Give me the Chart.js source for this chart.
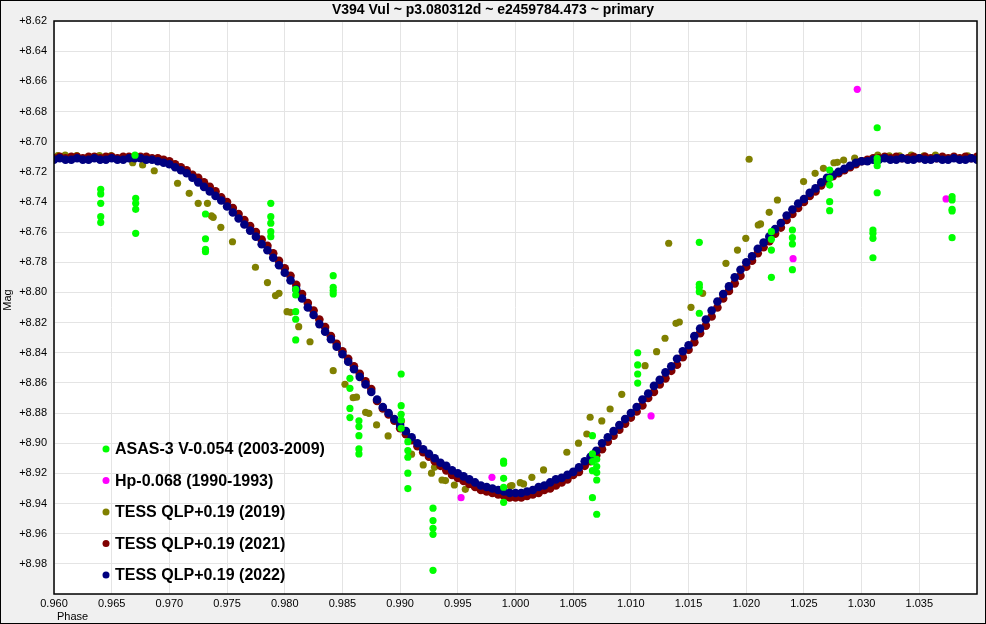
<!DOCTYPE html>
<html>
<head>
<meta charset="utf-8">
<script src="https://cdn.jsdelivr.net/npm/chart.js@4.4.1/dist/chart.umd.min.js"></script>
<style>
  html, body { margin: 0; padding: 0; background: #f0f0f0; }
  #wrap { width: 986px; height: 624px; position: relative; }
</style>
</head>
<body>
<div id="wrap"><canvas id="lc"></canvas></div>
<script>
// ASAS-3 V (2003-2009)
const asasPhase = [0.96405,0.96405,0.96405,0.96405,0.96405, 0.96702, 0.96708,0.96708,0.96708,0.96708,
  0.97313,0.97313,0.97313,0.97313, 0.97879,0.97879,0.97879,0.97879,0.97879,
  0.98095,0.98095,0.98095,0.98095,0.98095, 0.98420,0.98420,0.98420,0.98420,
  0.98565,0.98565,0.98565,0.98565, 0.98643,0.98643,0.98643,0.98643,0.98643,
  0.99009,0.99009,0.99009,0.99009,0.99009, 0.99067,0.99067,0.99067,0.99067,0.99067,
  0.99285,0.99285,0.99285,0.99285,0.99285, 0.99897,0.99897,0.99897,0.99897,0.99897,
  1.00667,1.00667,1.00667,1.00667,1.00667, 1.00704,1.00704,1.00704,1.00704,1.00704,
  1.01059,1.01059,1.01059,1.01059, 1.01593,1.01593,1.01593,1.01593,1.01593,
  1.02218,1.02218,1.02218,1.02218, 1.02400,1.02400,1.02400,1.02400,
  1.02723,1.02723,1.02723,1.02723,1.02723, 1.03098,1.03098,1.03098,1.03098,
  1.03135,1.03135,1.03135,1.03135,1.03135, 1.03784,1.03784,1.03784,1.03784,1.03784];
const asasMag = [8.7316,8.7347,8.7409,8.7498,8.7537, 8.7090, 8.7376,8.7409,8.7449,8.7608,
  8.7480,8.7644,8.7714,8.7730, 8.7409,8.7498,8.7541,8.7597,8.7630,
  8.7980,8.8017,8.8128,8.8178,8.8315, 8.7889,8.7966,8.7988,8.8010,
  8.8570,8.8636,8.8769,8.8830, 8.8851,8.8890,8.8950,8.9038,8.9071,
  8.8541,8.8751,8.8808,8.8846,8.8901, 8.8990,8.9049,8.9093,8.9199,8.9301,
  8.9431,8.9513,8.9564,8.9604,8.9843, 8.9118,8.9133,8.9233,8.9292,8.9392,
  8.8950,8.9071,8.9122,8.9182,8.9361, 8.9107,8.9155,8.9195,8.9244,8.9471,
  8.8400,8.8481,8.8541,8.8601, 8.7668,8.7946,8.7966,8.7995,8.8138,
  8.7597,8.7648,8.7719,8.7900, 8.7586,8.7637,8.7679,8.7849,
  8.7188,8.7243,8.7288,8.7398,8.7458, 8.7586,8.7608,8.7641,8.7770,
  8.6908,8.7111,8.7133,8.7160,8.7339, 8.7365,8.7387,8.7449,8.7460,8.7637];

// Hipparcos Hp (1990-1993)
const hpPhase = [0.99528, 0.99796, 1.01175, 1.02406, 1.02962, 1.03732];
const hpMag   = [8.9361, 8.9226, 8.8819, 8.7776, 8.6653, 8.7380];

// TESS QLP 2019
const tess19Phase = [0.96033,0.96097,0.96197,0.96394,0.96495,0.96682,0.96768,0.96869,0.97071,0.97172,
  0.97250,0.97330,0.97365,0.97380,0.97446,0.97547,0.97746,0.97850,0.97920,0.97950,
  0.98020,0.98050,0.98121,0.98219,0.98420,0.98522,0.98593,0.98622,0.98701,0.98729,
  0.98796,0.98896,0.99012,0.99099,0.99200,0.99272,0.99298,0.99363,0.99393,0.99470,
  0.99565,0.99955,0.99969,1.00041,1.00070,1.00142,1.00243,1.00445,1.00546,1.00618,
  1.00647,1.00748,1.00820,1.00921,1.01123,1.01223,1.01296,1.01328,1.01391,1.01420,
  1.01521,1.01622,1.01824,1.01924,1.01996,1.02025,1.02104,1.02124,1.02199,1.02270,
  1.02497,1.02597,1.02669,1.02760,1.02790,1.02844,1.02940,1.03140,1.03240,1.03330,
  1.03430,1.03540,1.03640,1.03920];
const tess19Mag = [8.7093,8.7090,8.7093,8.7093,8.7093,8.7140,8.7155,8.7193,8.7276,8.7343,
  8.7409,8.7409,8.7493,8.7502,8.7568,8.7664,8.7833,8.7935,8.8021,8.8006,
  8.8128,8.8132,8.8227,8.8327,8.8519,8.8609,8.8698,8.8695,8.8795,8.8802,
  8.8879,8.8952,8.8853,8.9073,8.9144,8.9199,8.9160,8.9244,8.9248,8.9277,
  8.9306,8.9284,8.9281,8.9262,8.9270,8.9226,8.9177,8.9060,8.9000,8.8939,
  8.8828,8.8852,8.8773,8.8676,8.8486,8.8393,8.8304,8.7674,8.8205,8.8196,
  8.8099,8.8006,8.7807,8.7719,8.7641,8.7117,8.7553,8.7546,8.7469,8.7387,
  8.7265,8.7210,8.7177,8.7140,8.7137,8.7122,8.7110,8.7089,8.7095,8.7095,
  8.7090,8.7095,8.7090,8.7095];

// TESS QLP 2021 and 2022 share the same phase sampling
const tessPhase = [
  0.9600,0.9605,0.9610,0.9615,0.9620,0.9625,0.9630,0.9635,0.9640,0.9645,
  0.9650,0.9655,0.9660,0.9665,0.9670,0.9675,0.9680,0.9685,0.9690,0.9695,
  0.9700,0.9705,0.9710,0.9715,0.9720,0.9725,0.9730,0.9735,0.9740,0.9745,
  0.9750,0.9755,0.9760,0.9765,0.9770,0.9775,0.9780,0.9785,0.9790,0.9795,
  0.9800,0.9805,0.9810,0.9815,0.9820,0.9825,0.9830,0.9835,0.9840,0.9845,
  0.9850,0.9855,0.9860,0.9865,0.9870,0.9875,0.9880,0.9885,0.9890,0.9895,
  0.9900,0.9905,0.9910,0.9915,0.9920,0.9925,0.9930,0.9935,0.9940,0.9945,
  0.9950,0.9955,0.9960,0.9965,0.9970,0.9975,0.9980,0.9985,0.9990,0.9995,
  1.0000,1.0005,1.0010,1.0015,1.0020,1.0025,1.0030,1.0035,1.0040,1.0045,
  1.0050,1.0055,1.0060,1.0065,1.0070,1.0075,1.0080,1.0085,1.0090,1.0095,
  1.0100,1.0105,1.0110,1.0115,1.0120,1.0125,1.0130,1.0135,1.0140,1.0145,
  1.0150,1.0155,1.0160,1.0165,1.0170,1.0175,1.0180,1.0185,1.0190,1.0195,
  1.0200,1.0205,1.0210,1.0215,1.0220,1.0225,1.0230,1.0235,1.0240,1.0245,
  1.0250,1.0255,1.0260,1.0265,1.0270,1.0275,1.0280,1.0285,1.0290,1.0295,
  1.0300,1.0305,1.0310,1.0315,1.0320,1.0325,1.0330,1.0335,1.0340,1.0345,
  1.0350,1.0355,1.0360,1.0365,1.0370,1.0375,1.0380,1.0385,1.0390,1.0395,
  1.0400];
const tess21Mag = [
  8.711,8.710,8.711,8.710,8.710,8.711,8.710,8.710,8.711,8.710,
  8.710,8.711,8.710,8.710,8.710,8.710,8.710,8.711,8.711,8.712,
  8.713,8.715,8.717,8.719,8.722,8.724,8.727,8.730,8.733,8.737,
  8.740,8.744,8.748,8.752,8.756,8.760,8.765,8.769,8.774,8.779,
  8.784,8.789,8.795,8.801,8.807,8.812,8.818,8.823,8.829,8.834,
  8.839,8.844,8.849,8.854,8.859,8.864,8.872,8.877,8.881,8.885,
  8.890,8.894,8.898,8.902,8.906,8.909,8.912,8.915,8.918,8.921,
  8.923,8.925,8.927,8.929,8.931,8.932,8.933,8.934,8.935,8.936,
  8.936,8.936,8.935,8.934,8.933,8.931,8.930,8.928,8.926,8.924,
  8.921,8.919,8.915,8.912,8.908,8.904,8.899,8.895,8.891,8.887,
  8.883,8.879,8.875,8.870,8.866,8.861,8.857,8.852,8.848,8.843,
  8.838,8.833,8.827,8.822,8.816,8.810,8.804,8.799,8.794,8.789,
  8.783,8.779,8.774,8.770,8.766,8.761,8.757,8.752,8.748,8.744,
  8.740,8.736,8.733,8.729,8.726,8.723,8.721,8.719,8.717,8.715,
  8.713,8.712,8.711,8.711,8.710,8.711,8.710,8.711,8.711,8.710,
  8.711,8.710,8.711,8.711,8.710,8.711,8.710,8.711,8.710,8.711,
  8.710];
const tess22Mag = [
  8.712,8.711,8.712,8.712,8.711,8.712,8.712,8.711,8.712,8.712,
  8.711,8.712,8.712,8.711,8.711,8.711,8.712,8.712,8.713,8.714,
  8.715,8.717,8.719,8.721,8.724,8.727,8.730,8.733,8.736,8.739,
  8.743,8.747,8.751,8.755,8.759,8.763,8.768,8.772,8.777,8.782,
  8.787,8.792,8.798,8.804,8.810,8.815,8.821,8.826,8.831,8.836,
  8.841,8.846,8.851,8.856,8.861,8.866,8.871,8.876,8.880,8.884,
  8.888,8.892,8.896,8.900,8.904,8.907,8.910,8.913,8.915,8.918,
  8.920,8.922,8.924,8.926,8.928,8.929,8.930,8.931,8.932,8.933,
  8.933,8.933,8.932,8.931,8.929,8.928,8.926,8.924,8.923,8.921,
  8.919,8.916,8.912,8.909,8.905,8.900,8.896,8.892,8.888,8.884,
  8.880,8.876,8.871,8.867,8.862,8.858,8.853,8.849,8.844,8.839,
  8.835,8.829,8.824,8.818,8.812,8.806,8.801,8.796,8.790,8.785,
  8.780,8.776,8.771,8.767,8.763,8.758,8.754,8.749,8.745,8.741,
  8.738,8.734,8.731,8.727,8.724,8.722,8.720,8.718,8.716,8.714,
  8.713,8.713,8.712,8.712,8.711,8.712,8.712,8.711,8.712,8.712,
  8.711,8.712,8.712,8.711,8.712,8.712,8.711,8.712,8.712,8.711,
  8.712];

const seriesLabels = ['ASAS-3 V-0.054 (2003-2009)', 'Hp-0.068 (1990-1993)',
  'TESS QLP+0.19 (2019)', 'TESS QLP+0.19 (2021)', 'TESS QLP+0.19 (2022)'];
const seriesColors = ['#00ff00', '#ff00ff', '#808000', '#800000', '#000080'];

const FONT = '"Liberation Sans", Arial, sans-serif';

function pts(xs, ys) {
  return xs.map((x, i) => ({ x: x, y: ys[i] }));
}

// background, frame, title, axis names and the in-plot legend
const decor = {
  id: 'decor',
  beforeDraw(chart) {
    const { ctx, chartArea: a, width, height } = chart;
    ctx.save();
    ctx.fillStyle = '#f0f0f0';
    ctx.fillRect(0, 0, width, height);
    ctx.fillStyle = '#ffffff';
    ctx.fillRect(a.left, a.top, a.right - a.left, a.bottom - a.top);
    ctx.restore();
  },
  afterDraw(chart) {
    const { ctx, chartArea: a, width, height } = chart;
    ctx.save();
    ctx.strokeStyle = '#000';
    ctx.lineWidth = 1.5;
    ctx.strokeRect(a.left, a.top, a.right - a.left, a.bottom - a.top);
    ctx.lineWidth = 1;
    ctx.strokeRect(0.5, 0.5, width - 1, height - 1);

    ctx.fillStyle = '#000';
    ctx.font = 'bold 14px ' + FONT;
    ctx.textAlign = 'center';
    ctx.textBaseline = 'middle';
    ctx.fillText('V394 Vul ~ p3.080312d ~ e2459784.473 ~ primary', width / 2, 10);

    ctx.font = '11px ' + FONT;
    ctx.textAlign = 'left';
    ctx.fillText('Phase', 57, 617);
    ctx.save();
    ctx.translate(8, 300);
    ctx.rotate(-Math.PI / 2);
    ctx.textAlign = 'center';
    ctx.fillText('Mag', 0, 0);
    ctx.restore();

    ctx.font = 'bold 16px ' + FONT;
    ctx.textAlign = 'left';
    seriesLabels.forEach((lab, i) => {
      const y = 449 + i * 31.5;
      ctx.fillStyle = seriesColors[i];
      ctx.beginPath();
      ctx.arc(106, y, 3.5, 0, Math.PI * 2);
      ctx.fill();
      ctx.fillStyle = '#000';
      ctx.fillText(lab, 115, y + 1);
    });
    ctx.restore();
  }
};

const common = { showLine: false, pointRadius: 3.6, pointHoverRadius: 3.6, borderWidth: 0 };
const dense = { showLine: false, pointRadius: 4.3, pointHoverRadius: 4.3, borderWidth: 0 };

new Chart('lc', {
  type: 'scatter',
  data: {
    datasets: [
      Object.assign({ label: seriesLabels[0], data: pts(asasPhase, asasMag),
        backgroundColor: seriesColors[0], order: 0 }, common),
      Object.assign({ label: seriesLabels[1], data: pts(hpPhase, hpMag),
        backgroundColor: seriesColors[1], order: 1 }, common),
      Object.assign({ label: seriesLabels[2], data: pts(tess19Phase, tess19Mag),
        backgroundColor: seriesColors[2], order: 4 }, common),
      Object.assign({ label: seriesLabels[3], data: pts(tessPhase, tess21Mag),
        backgroundColor: seriesColors[3], order: 3 }, dense),
      Object.assign({ label: seriesLabels[4], data: pts(tessPhase, tess22Mag),
        backgroundColor: seriesColors[4], order: 2 }, dense)
    ]
  },
  options: {
    responsive: true,
    maintainAspectRatio: false,
    animation: false,
    layout: { padding: { left: 0, top: 21, right: 9, bottom: 0 } },
    plugins: {
      legend: { display: false },
      title: { display: false },
      tooltip: { enabled: false }
    },
    scales: {
      x: {
        type: 'linear',
        min: 0.96,
        max: 1.04,
        border: { display: false },
        grid: { color: '#e4e4e4', drawTicks: false },
        ticks: {
          stepSize: 0.005,
          padding: 3,
          color: '#000',
          maxRotation: 0,
          autoSkip: false,
          font: { family: FONT, size: 11 },
          callback: v => (v > 1.0399 ? '' : v.toFixed(3))
        },
        afterFit(scale) { scale.height = 30; }
      },
      y: {
        type: 'linear',
        reverse: true,
        min: 8.62,
        max: 9.00,
        border: { display: false },
        grid: { color: '#e4e4e4', drawTicks: false },
        ticks: {
          stepSize: 0.02,
          padding: 7,
          color: '#000',
          autoSkip: false,
          font: { family: FONT, size: 11 },
          callback: v => (v > 8.999 ? '' : '+' + v.toFixed(2))
        },
        afterFit(scale) { scale.width = 54; }
      }
    }
  },
  plugins: [decor]
});
</script>
</body>
</html>
